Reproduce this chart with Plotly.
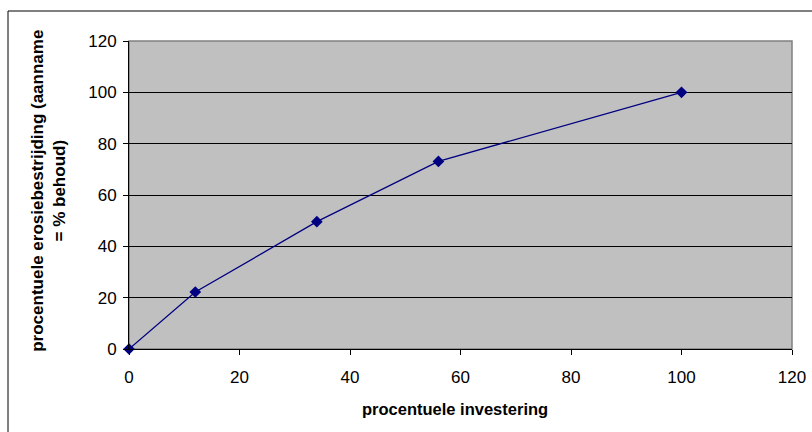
import plotly.graph_objects as go

investering = [0, 12, 34, 56, 100]
erosiebestrijding = [0, 22.2, 49.6, 73.1, 100]
tick_vals = [0, 20, 40, 60, 80, 100, 120]
x_title = "procentuele investering"
y_title = "procentuele erosiebestrijding (aanname<br>= % behoud)"

FONT = "Liberation Sans, Arial, sans-serif"

fig = go.Figure()
fig.add_trace(go.Scatter(
    x=investering, y=erosiebestrijding, mode="lines+markers",
    line=dict(color="#000080", width=1.3),
    marker=dict(symbol="diamond", size=9, color="#000080"),
    cliponaxis=False, showlegend=False,
))

fig.update_layout(
    width=812, height=432,
    margin=dict(l=129, r=20, t=41, b=83, autoexpand=False),
    paper_bgcolor="white", plot_bgcolor="#C0C0C0",
    font=dict(family=FONT, size=17, color="black"),
    xaxis=dict(range=[0, 120], tickvals=tick_vals, showgrid=False, zeroline=False,
               showline=True, linecolor="black", linewidth=1,
               ticks="outside", ticklen=5, tickcolor="black",
               ticklabelstandoff=8, automargin=False,
               tickfont=dict(size=17)),
    yaxis=dict(range=[0, 120], tickvals=tick_vals, showgrid=True, gridcolor="black",
               gridwidth=1, zeroline=False,
               showline=True, linecolor="black", linewidth=1,
               ticks="outside", ticklen=5, tickcolor="black",
               ticklabelstandoff=3, automargin=False,
               tickfont=dict(size=17)),
    shapes=[
        dict(type="rect", xref="x domain", yref="y domain", x0=0, x1=1, y0=0, y1=1,
             line=dict(color="#808080", width=1.5), layer="below"),
        dict(type="rect", xref="paper", yref="paper", x0=-0.1825, x1=1.2, y0=-0.5,
             y1=1.0974, line=dict(color="black", width=1), layer="below"),
    ],
    annotations=[
        dict(text=x_title, xref="paper", yref="paper", x=0.492, y=-0.195,
             xanchor="center", yanchor="middle", showarrow=False,
             font=dict(family=FONT, size=16.5, color="black", weight="bold")),
        dict(text=y_title, xref="paper", yref="paper", x=-0.121, y=0.513,
             xanchor="center", yanchor="middle", showarrow=False, textangle=-90,
             font=dict(family=FONT, size=17, color="black", weight="bold")),
    ],
)

fig.write_html("out.html", config={"displayModeBar": False},
               post_script="document.body.style.margin='0';")
